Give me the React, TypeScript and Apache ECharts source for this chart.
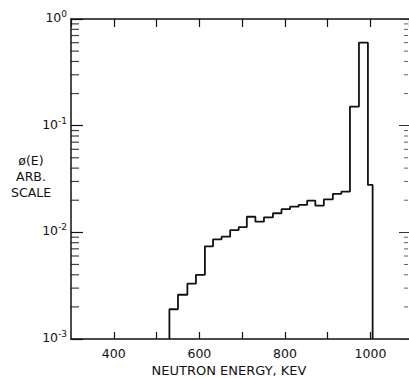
import React, { useEffect, useRef } from "react";
import * as echarts from "echarts";

// Histogram bin edges (keV) and flux values phi(E), arbitrary scale
const binEdges = [530, 550, 572, 592, 613, 632, 652, 672, 692, 711, 731, 751, 772, 792, 812, 832, 852, 871, 891, 912, 932, 952, 973, 994, 1005];
const fluxValues = [0.0019, 0.0026, 0.0033, 0.0040, 0.0074, 0.0086, 0.0091, 0.0105, 0.0112, 0.0140, 0.0126, 0.0138, 0.0151, 0.0165, 0.0174, 0.0181, 0.0198, 0.0178, 0.0204, 0.0229, 0.0241, 0.151, 0.60, 0.0278];

const xMin = 300;
const xMax = 1090;
const yMin = 0.001;
const yMax = 1;
const xLabelValues = [400, 600, 800, 1000];
const minorMultipliers = [2, 3, 4, 5, 6, 7, 8, 9];
const decadeExponents = [-3, -2, -1];

const FONT = "DejaVu Sans";

export default function App() {
  const ref = useRef<HTMLDivElement>(null);
  useEffect(() => {
    if (!ref.current) return;
    const chart = echarts.init(ref.current, null, { renderer: "svg" });

    const stepPts: number[][] = [[binEdges[0], yMin]];
    fluxValues.forEach((v, i) => {
      stepPts.push([binEdges[i], v]);
      stepPts.push([binEdges[i + 1], v]);
    });
    stepPts.push([binEdges[binEdges.length - 1], yMin]);

    const minorVals: number[] = [];
    decadeExponents.forEach((d) => minorMultipliers.forEach((k) => minorVals.push(k * Math.pow(10, d))));

    const supLabel = (v: number) => {
      const e = Math.round(Math.log10(v));
      return `{b|10}{s|${e === 0 ? "0" : e}}`;
    };

    chart.setOption({
      animation: false,
      backgroundColor: "#fff",
      grid: { left: 71, top: 19, width: 338, height: 320, containLabel: false },
      xAxis: [
        {
          type: "value",
          position: "bottom",
          min: xMin,
          max: xMax,
          interval: 100,
          axisLine: { show: true, lineStyle: { color: "#111", width: 1.5 } },
          axisTick: { show: true, inside: true, length: 7, lineStyle: { color: "#111", width: 1.2 } },
          axisLabel: {
            show: true,
            margin: 8,
            color: "#111",
            fontFamily: FONT,
            fontSize: 12.5,
            showMinLabel: false,
            showMaxLabel: false,
            formatter: (v: number) => (xLabelValues.includes(v) ? String(v) : ""),
          },
          splitLine: { show: false },
        },
        {
          type: "value",
          position: "top",
          min: xMin,
          max: xMax,
          interval: 100,
          axisLine: { show: true, onZero: false, lineStyle: { color: "#111", width: 1.5 } },
          axisTick: { show: true, inside: true, length: 8, lineStyle: { color: "#111", width: 1.2 } },
          axisLabel: { show: false },
          splitLine: { show: false },
        },
      ],
      yAxis: [
        {
          type: "log",
          logBase: 10,
          min: yMin,
          max: yMax,
          position: "left",
          axisLine: { show: true, onZero: false, lineStyle: { color: "#111", width: 1.5 } },
          axisTick: { show: true, inside: true, length: 12, lineStyle: { color: "#111", width: 1.2 } },
          axisLabel: {
            show: true,
            margin: 4,
            color: "#111",
            formatter: supLabel,
            rich: {
              b: { fontFamily: FONT, fontSize: 12.5, color: "#111", lineHeight: 12, padding: [0, 0, 3, 0] },
              s: { fontFamily: FONT, fontSize: 9, color: "#111", lineHeight: 9, padding: [0, 0, 10, 0] },
            },
          },
          splitLine: { show: false },
        },
        {
          type: "log",
          logBase: 10,
          min: yMin,
          max: yMax,
          position: "right",
          axisLine: { show: false },
          axisTick: { show: true, inside: true, length: 10, lineStyle: { color: "#333", width: 1 } },
          axisLabel: { show: false },
          splitLine: { show: false },
        },
      ],
      graphic: [
        {
          type: "text",
          x: 31,
          y: 152,
          style: {
            text: "ø(E)\nARB.\nSCALE",
            fontFamily: FONT,
            fontSize: 12.5,
            lineHeight: 16,
            fill: "#111",
            align: "center",
            verticalAlign: "top",
          },
        },
        {
          type: "text",
          x: 229,
          y: 377,
          style: {
            text: "NEUTRON ENERGY, KEV",
            fontFamily: FONT,
            fontSize: 13,
            fill: "#111",
            align: "center",
            verticalAlign: "bottom",
          },
        },
      ],
      series: [
        {
          type: "line",
          xAxisIndex: 0,
          yAxisIndex: 0,
          data: stepPts,
          showSymbol: false,
          symbol: "none",
          smooth: false,
          lineStyle: { color: "#111", width: 1.8 },
          clip: false,
          z: 5,
        },
        {
          type: "scatter",
          xAxisIndex: 0,
          yAxisIndex: 0,
          data: minorVals.map((v) => [xMin, v]),
          symbol: "rect",
          symbolSize: [8, 1.2],
          symbolOffset: [4, 0],
          itemStyle: { color: "#111" },
          clip: false,
          silent: true,
        },
        {
          type: "scatter",
          xAxisIndex: 0,
          yAxisIndex: 0,
          data: minorVals.map((v) => [xMax, v]),
          symbol: "rect",
          symbolSize: [4, 1],
          symbolOffset: [-3, 0],
          itemStyle: { color: "#333" },
          clip: false,
          silent: true,
        },
      ],
    });
    return () => chart.dispose();
  }, []);
  return <div ref={ref} style={{ width: 409, height: 378, position: "absolute", left: 0, top: 0 }} />;
}
